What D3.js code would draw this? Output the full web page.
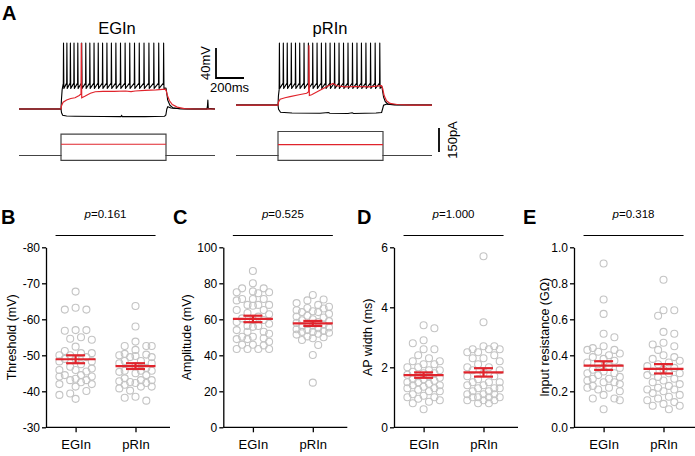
<!DOCTYPE html>
<html>
<head>
<meta charset="utf-8">
<script src="https://cdn.jsdelivr.net/npm/d3@7"></script>
<style>
  body { margin: 0; background: #fff; }
  svg { font-family: Arial, "Liberation Sans", sans-serif; }
</style>
</head>
<body>
<div id="fig"></div>
<script>
// ---------- data ----------
const groups = ["EGIn", "pRIn"];

// membrane potential traces (ms, mV)
const stepOn = 300, stepOff = 1050;
const spikesEGIn = [318, 342, 367, 393, 420, 448, 477, 506, 536, 566, 597, 628, 660, 692, 725, 758, 791, 825, 859, 893, 928, 963, 998, 1033];
const spikesPRIn = [310, 338, 366, 395, 425, 455, 486, 517, 548, 579, 610, 641, 672, 704, 736, 768, 800, 832, 864, 896, 928, 961, 994, 1027];
const restEGIn = -70, restPRIn = -64.7;
const spikeLevels = { thr: -35.5, peak: 18, trough: -42.5 };   // shared spike shape levels

const tailEGIn = [[1036, -42.5], [1050, -42], [1054, -47], [1062, -58], [1078, -65], [1100, -68.5], [1150, -69.7], [1200, -70], [1342, -70], [1346, -66], [1349, -58], [1352, -69], [1400, -70]];
const tailPRIn = [[1030, -42], [1042, -40], [1046, -45], [1054, -54], [1066, -60], [1085, -63.5], [1130, -64.5], [1400, -64.7]];

const redEGIn = [[0, -70], [300, -70], [303, -66], [315, -61], [340, -58], [370, -56], [400, -55], [430, -52], [443, -50], [445, 18], [448, -55], [470, -53], [510, -49], [545, -47], [600, -46.5], [680, -46.5], [760, -46], [800, -46.8], [830, -46], [900, -45.2], [980, -44.6], [1045, -43.5], [1052, -46], [1060, -52], [1075, -59], [1095, -64], [1130, -67.5], [1180, -69.5], [1250, -70], [1400, -70]];
const redPRIn = [[0, -64.7], [300, -64.7], [303, -61], [315, -57], [350, -55], [386, -53.6], [450, -51], [505, -49], [519, -47], [521, 15], [524, -52], [540, -51], [600, -45], [660, -39], [693, -36], [720, -39], [780, -40.5], [850, -40], [950, -40.5], [1040, -39], [1048, -43], [1058, -52], [1075, -59], [1100, -62.5], [1150, -64], [1250, -64.7], [1400, -64.7]];

const hypEGIn = [[0, -70], [300, -70], [304, -75], [312, -78.3], [340, -79.3], [400, -79.6], [600, -80], [728, -80.2], [733, -78.8], [738, -80.2], [900, -80.2], [1040, -79.6], [1049, -78], [1056, -70], [1063, -67], [1085, -68.6], [1150, -69.6], [1250, -70], [1400, -70]];
const hypPRIn = [[0, -64.7], [300, -64.7], [304, -70.5], [318, -74.3], [400, -75.3], [600, -75.6], [660, -74.6], [670, -75.6], [800, -75.9], [830, -75], [840, -75.9], [1000, -75.4], [1040, -74.6], [1047, -70], [1054, -65], [1078, -63.4], [1150, -64.3], [1400, -64.7]];

// injected current steps (pA)
const currentBlackEGIn = [133, -30], currentRedEGIn = 70;
const currentBlackPRIn = [150, -30], currentRedPRIn = 68;

// scatter data
const thresholdEGIn = [-67.7, -63.2, -62.7, -62.7, -57.0, -56.8, -57.0, -54.6, -55.0, -54.3, -52.4, -51.2, -50.6, -50.6, -50.0, -50.0, -49.5, -49.0, -49.0, -48.3, -48.3, -47.5, -46.8, -46.3, -45.9, -45.9, -45.5, -44.5, -44.5, -44.1, -44.1, -43.5, -43.1, -43.1, -42.5, -42.0, -42.0, -41.3, -40.1, -39.4, -39.0, -37.9];
const thresholdPRIn = [-63.7, -58.0, -53.8, -52.6, -52.6, -52.6, -51.5, -50.4, -50.2, -50.0, -49.8, -49.5, -49.5, -48.4, -48.4, -47.8, -47.8, -47.0, -46.5, -45.7, -45.7, -45.7, -45.4, -45.0, -44.5, -43.6, -43.1, -43.1, -42.8, -42.6, -42.3, -42.3, -41.8, -41.3, -41.3, -40.8, -40.2, -38.5, -38.2, -37.4];
const amplitudeEGIn = [86.8, 80.0, 77.2, 77.2, 75.5, 75.0, 75.0, 74.5, 71.3, 71.3, 71.3, 70.5, 68.0, 68.0, 68.0, 67.5, 65.2, 65.2, 63.5, 62.8, 61.5, 60.5, 59.6, 59.6, 58.5, 57.5, 56.3, 56.3, 55.8, 54.0, 53.1, 53.1, 52.0, 50.3, 50.3, 49.5, 49.0, 49.0, 47.5, 45.9, 45.9, 45.5, 43.5, 43.5, 43.5, 43.5];
const amplitudePRIn = [73.5, 71.0, 70.5, 69.0, 68.0, 67.0, 66.3, 66.0, 65.0, 64.5, 64.0, 64.0, 63.0, 62.0, 61.5, 61.0, 60.0, 59.5, 59.0, 58.5, 58.0, 57.5, 57.0, 56.5, 56.0, 55.5, 55.0, 54.5, 54.0, 53.5, 53.0, 53.0, 52.5, 52.0, 51.5, 50.5, 50.0, 49.5, 48.5, 45.7, 40.2, 24.8];
const widthEGIn = [3.4, 3.3, 2.9, 2.8, 2.6, 2.6, 2.4, 2.3, 2.2, 2.2, 2.1, 2.1, 2.0, 2.0, 1.9, 1.9, 1.85, 1.8, 1.8, 1.75, 1.7, 1.7, 1.65, 1.6, 1.6, 1.55, 1.5, 1.5, 1.45, 1.4, 1.4, 1.35, 1.3, 1.3, 1.25, 1.2, 1.2, 1.1, 1.05, 1.0, 1.0, 0.95, 0.9, 0.85, 0.8, 0.6];
const widthPRIn = [5.7, 3.5, 2.7, 2.7, 2.6, 2.6, 2.6, 2.5, 2.5, 2.4, 2.3, 2.3, 2.2, 2.1, 2.0, 2.0, 1.9, 1.9, 1.8, 1.7, 1.7, 1.6, 1.5, 1.5, 1.5, 1.4, 1.4, 1.3, 1.3, 1.3, 1.2, 1.2, 1.1, 1.1, 1.1, 1.0, 1.0, 1.0, 1.0, 0.9, 0.9, 0.9, 0.8, 0.8];
const resistanceEGIn = [0.91, 0.71, 0.63, 0.52, 0.50, 0.45, 0.44, 0.43, 0.43, 0.42, 0.41, 0.40, 0.39, 0.38, 0.37, 0.36, 0.35, 0.34, 0.33, 0.32, 0.31, 0.30, 0.30, 0.29, 0.28, 0.27, 0.27, 0.26, 0.25, 0.25, 0.24, 0.23, 0.22, 0.22, 0.21, 0.20, 0.18, 0.16, 0.16, 0.15, 0.10];
const resistancePRIn = [0.82, 0.65, 0.65, 0.62, 0.53, 0.52, 0.47, 0.46, 0.45, 0.43, 0.40, 0.39, 0.38, 0.37, 0.36, 0.35, 0.34, 0.33, 0.32, 0.31, 0.30, 0.30, 0.29, 0.28, 0.27, 0.26, 0.25, 0.24, 0.23, 0.22, 0.21, 0.21, 0.20, 0.19, 0.18, 0.17, 0.16, 0.15, 0.14, 0.13, 0.12, 0.12, 0.10];

// mean and SEM per group
const thresholdMean = [-48.9, -47.0], thresholdSem = [1.1, 0.8];
const amplitudeMean = [60.2, 57.7], amplitudeSem = [1.8, 1.4];
const widthMean = [1.74, 1.83], widthSem = [0.09, 0.14];
const resistanceMean = [0.343, 0.325], resistanceSem = [0.024, 0.026];

const pValues = ["0.161", "0.525", "1.000", "0.318"];

// ---------- drawing ----------
const W = 695, H = 456;
const RED = "#e0242c";
const FONT = "Arial, 'Liberation Sans', sans-serif";
const svg = d3.select("#fig").append("svg").attr("width", W).attr("height", H);

// panel A: traces
svg.append("text").attr("x", 2).attr("y", 20).attr("font-size", 20).attr("font-weight", "bold").text("A");

const v = d3.scaleLinear().domain([-70, 18]).range([109, 43]);
const amp = d3.scaleLinear().domain([0, 150]).range([155.5, 131.5]);

function spikingTrace(spikes, rest, tail) {
    const pts = [[0, rest], [stepOn, rest], [stepOn + 3, rest + 12], [stepOn + 8, spikeLevels.trough - 2]];
    spikes.forEach(t => {
        pts.push([t - 1.5, spikeLevels.thr], [t, spikeLevels.peak], [t + 2.5, spikeLevels.trough]);
    });
    return pts.concat(tail);
}

const cells = [
    {name: "EGIn", x0: 19, titleX: 117, spikes: spikesEGIn, rest: restEGIn, tail: tailEGIn, red: redEGIn, hyp: hypEGIn, iBlack: currentBlackEGIn, iRed: currentRedEGIn},
    {name: "pRIn", x0: 236, titleX: 330, spikes: spikesPRIn, rest: restPRIn, tail: tailPRIn, red: redPRIn, hyp: hypPRIn, iBlack: currentBlackPRIn, iRed: currentRedPRIn}
];

cells.forEach(c => {
    const t = d3.scaleLinear().domain([0, 1400]).range([c.x0, c.x0 + 196]);
    const line = d3.line().x(d => t(d[0])).y(d => v(d[1]));
    const iLine = d3.line().x(d => t(d[0])).y(d => amp(d[1]));
    const g = svg.append("g");

    g.append("text").attr("x", c.titleX).attr("y", 34).attr("text-anchor", "middle")
        .attr("font-size", 16.5).text(c.name);

    g.append("path").attr("d", line(c.hyp)).attr("fill", "none").attr("stroke", "#000").attr("stroke-width", 1.1);
    g.append("path").attr("d", line(spikingTrace(c.spikes, c.rest, c.tail))).attr("fill", "none")
        .attr("stroke", "#000").attr("stroke-width", 1.1).attr("stroke-linejoin", "round");
    g.append("path").attr("d", line(c.red)).attr("fill", "none").attr("stroke", RED).attr("stroke-width", 1.2);

    // current steps
    c.iBlack.forEach(a => {
        g.append("path").attr("d", iLine([[0, 0], [stepOn, 0], [stepOn, a], [stepOff, a], [stepOff, 0], [1400, 0]]))
            .attr("fill", "none").attr("stroke", "#444").attr("stroke-width", 1.2);
    });
    g.append("path").attr("d", iLine([[stepOn, c.iRed], [stepOff, c.iRed]]))
        .attr("fill", "none").attr("stroke", RED).attr("stroke-width", 1.1);
});

// scale bars
const tBar = d3.scaleLinear().domain([0, 1400]).range([0, 196]);
const sb = svg.append("g").attr("stroke", "#000").attr("stroke-width", 1.8).attr("fill", "none");
sb.append("path").attr("d", `M216,${v(-70 + 40) - v(-70) + 78}V78H${216 + tBar(200)}`);
sb.append("line").attr("x1", 439).attr("x2", 439).attr("y1", 152).attr("y2", 152 - (amp(0) - amp(150)));
svg.append("text").attr("transform", "translate(210,63) rotate(-90)").attr("text-anchor", "middle")
    .attr("font-size", 13).text("40mV");
svg.append("text").attr("x", 210).attr("y", 92).attr("font-size", 13).text("200ms");
svg.append("text").attr("transform", "translate(457,140) rotate(-90)").attr("text-anchor", "middle")
    .attr("font-size", 13).text("150pA");

// scatter panels: column-based swarm, kept narrow like the original
function swarm(vals, y, cx) {
    const s = 5.4, dmin = 7.4, kmax = 3;
    const pts = vals.map(d => ({v: d, y: y(d)})).sort((a, b) => a.y - b.y);
    const placed = [];
    let flip = 1;
    pts.forEach(p => {
        const order = [0];
        for (let k = 1; k <= kmax; k++) order.push(flip * k * s, -flip * k * s);
        let best = 0, bestD = -1, chosen = null;
        for (const off of order) {
            const md = placed.length ? d3.min(placed, q => Math.hypot(q.x - off, q.y - p.y)) : Infinity;
            if (md >= dmin) { chosen = off; break; }
            if (md > bestD) { bestD = md; best = off; }
        }
        p.x = chosen === null ? best : chosen;
        if (p.x !== 0) flip = -flip;
        placed.push(p);
    });
    return pts.map(p => ({x: cx + p.x, y: p.y}));
}

const panels = [
    {letter: "B", lx: 1, x0: 46, labelX: 16, label: "Threshold (mV)", domain: [-80, -30], ticks: [-80, -70, -60, -50, -40, -30], fmt: d => String(d), data: [thresholdEGIn, thresholdPRIn], mean: thresholdMean, sem: thresholdSem},
    {letter: "C", lx: 173, x0: 223.3, labelX: 191, label: "Amplitude (mV)", domain: [100, 0], ticks: [0, 20, 40, 60, 80, 100], fmt: d => String(d), data: [amplitudeEGIn, amplitudePRIn], mean: amplitudeMean, sem: amplitudeSem},
    {letter: "D", lx: 357, x0: 394, labelX: 372, label: "AP width (ms)", domain: [6, 0], ticks: [0, 2, 4, 6], fmt: d => String(d), data: [widthEGIn, widthPRIn], mean: widthMean, sem: widthSem},
    {letter: "E", lx: 523, x0: 574, labelX: 549, label: "Input resistance (G\u03A9)", domain: [1, 0], ticks: [0, 0.2, 0.4, 0.6, 0.8, 1.0], fmt: d3.format(".1f"), data: [resistanceEGIn, resistancePRIn], mean: resistanceMean, sem: resistanceSem}
];

const yTop = 247.3, yBot = 427.3;

panels.forEach((p, i) => {
    const g = svg.append("g");
    const y = d3.scaleLinear().domain(p.domain).range([yTop, yBot]);
    const x = d3.scalePoint().domain(groups).range([p.x0 + 29.6, p.x0 + 89.5]);

    g.append("text").attr("x", p.lx).attr("y", 224).attr("font-size", 20).attr("font-weight", "bold").text(p.letter);

    // y axis
    const ya = g.append("g").attr("transform", `translate(${p.x0},0)`)
        .call(d3.axisLeft(y).tickValues(p.ticks).tickFormat(p.fmt).tickSize(4).tickSizeOuter(0).tickPadding(2));
    ya.select(".domain").attr("stroke-width", 1.3);
    ya.selectAll(".tick line").attr("stroke-width", 1.3);
    ya.selectAll("text").attr("font-size", 12).attr("font-family", FONT).attr("fill", "#000");

    // x axis
    const xa = g.append("g").attr("transform", `translate(0,${yBot})`)
        .call(d3.axisBottom(x).tickSize(5).tickPadding(7));
    xa.select(".domain").remove();
    xa.selectAll(".tick line").attr("stroke-width", 1.3);
    xa.selectAll("text").attr("font-size", 13).attr("font-family", FONT).attr("fill", "#000");
    g.append("line").attr("x1", p.x0).attr("x2", p.x0 + 124).attr("y1", yBot).attr("y2", yBot)
        .attr("stroke", "#000").attr("stroke-width", 1.3);

    // axis title
    g.append("text").attr("transform", `translate(${p.labelX},${(yTop + yBot) / 2}) rotate(-90)`)
        .attr("text-anchor", "middle").attr("font-size", 12.5).text(p.label);

    // significance bracket
    const cx = (x("EGIn") + x("pRIn")) / 2;
    g.append("line").attr("x1", cx - 50).attr("x2", cx + 50).attr("y1", 235.5).attr("y2", 235.5)
        .attr("stroke", "#000").attr("stroke-width", 1);
    const pt = g.append("text").attr("x", cx).attr("y", 218).attr("text-anchor", "middle").attr("font-size", 11.5);
    pt.append("tspan").attr("font-style", "italic").text("p");
    pt.append("tspan").text("=" + pValues[i]);

    // points
    groups.forEach((grp, j) => {
        g.append("g").selectAll("circle")
            .data(swarm(p.data[j], y, x(grp)))
            .enter().append("circle")
            .attr("cx", d => d.x).attr("cy", d => d.y).attr("r", 3.5)
            .attr("fill", "none").attr("stroke", "#c4c4c4").attr("stroke-width", 1.1);
    });

    // mean +/- SEM
    groups.forEach((grp, j) => {
        const c = x(grp), m = p.mean[j], s = p.sem[j];
        const eg = g.append("g").attr("stroke", RED).attr("stroke-width", 2.2);
        eg.append("line").attr("x1", c - 20).attr("x2", c + 20).attr("y1", y(m)).attr("y2", y(m));
        eg.append("line").attr("x1", c).attr("x2", c).attr("y1", y(m - s)).attr("y2", y(m + s));
        eg.append("line").attr("x1", c - 9.5).attr("x2", c + 9.5).attr("y1", y(m - s)).attr("y2", y(m - s));
        eg.append("line").attr("x1", c - 9.5).attr("x2", c + 9.5).attr("y1", y(m + s)).attr("y2", y(m + s));
    });
});
</script>
</body>
</html>
